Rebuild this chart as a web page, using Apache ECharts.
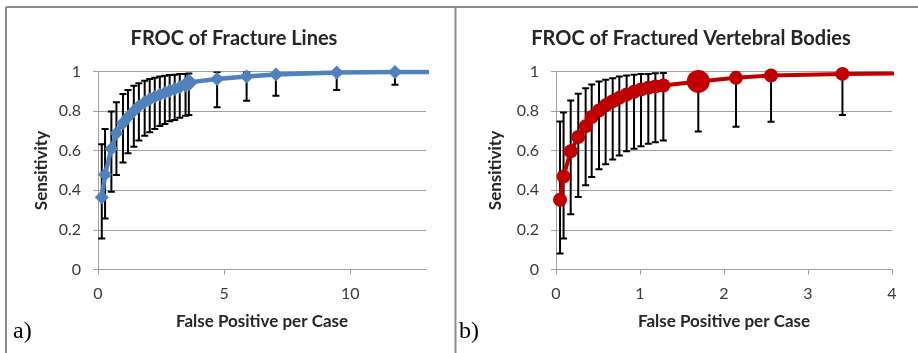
<!DOCTYPE html>
<html>
<head>
<meta charset="utf-8">
<script src="https://cdn.jsdelivr.net/npm/echarts@6/dist/echarts.min.js"></script>
<style>
html,body{margin:0;padding:0;background:#fff;}
#chart{width:918px;height:353px;}
</style>
</head>
<body>
<div id="chart"></div>
<script>
// ---------- DATA ----------
const titleA = 'FROC of Fracture Lines';
const titleB = 'FROC of Fractured Vertebral Bodies';
const xName = 'False Positive per Case';
const yName = 'Sensitivity';
const panelA = 'a)';
const panelB = 'b)';

const xTicksA = [0, 5, 10];
const xTicksB = [0, 1, 2, 3, 4];
const yTicks = [0, 0.2, 0.4, 0.6, 0.8, 1];

// Panel a) fracture lines
const fpA   = [0.15, 0.28, 0.53, 0.73, 0.99, 1.19, 1.42, 1.62, 1.85, 2.05, 2.25, 2.45, 2.65, 2.84, 3.04, 3.24, 3.47, 3.6, 4.72, 5.89, 7.05, 9.46, 11.77, 14.5];
const sensA = [0.365, 0.48, 0.61, 0.688, 0.74, 0.77, 0.80, 0.825, 0.845, 0.86, 0.872, 0.882, 0.893, 0.903, 0.912, 0.92, 0.93, 0.945, 0.962, 0.975, 0.985, 0.995, 0.997, 0.998];
const hiA   = [0.633, 0.71, 0.798, 0.845, 0.886, 0.907, 0.928, 0.941, 0.953, 0.962, 0.968, 0.975, 0.978, 0.982, 0.983, 0.987, 0.988, 0.99, 0.997, 0.997, 1.0, 1.0, 1.0, null];
const loA   = [0.157, 0.258, 0.393, 0.477, 0.54, 0.587, 0.62, 0.651, 0.675, 0.693, 0.71, 0.725, 0.735, 0.749, 0.755, 0.767, 0.777, 0.78, 0.82, 0.852, 0.877, 0.906, 0.933, null];

// Panel b) fractured vertebral bodies
const fpB   = [0.048, 0.09, 0.175, 0.265, 0.353, 0.425, 0.512, 0.591, 0.675, 0.754, 0.841, 0.929, 1.012, 1.099, 1.183, 1.278, 1.694, 2.143, 2.56, 3.41, 4.5];
const sensB = [0.352, 0.47, 0.597, 0.669, 0.723, 0.77, 0.803, 0.829, 0.85, 0.867, 0.884, 0.898, 0.909, 0.918, 0.924, 0.929, 0.95, 0.968, 0.98, 0.988, 0.992];
const hiB   = [0.748, 0.793, 0.854, 0.888, 0.916, 0.934, 0.95, 0.958, 0.966, 0.975, 0.98, 0.983, 0.988, 0.988, 0.991, 0.993, 1.0, 1.0, 1.0, 1.0, null];
const loB   = [0.081, 0.156, 0.279, 0.366, 0.425, 0.467, 0.506, 0.531, 0.555, 0.576, 0.597, 0.61, 0.623, 0.635, 0.643, 0.652, 0.697, 0.721, 0.746, 0.78, null];

// ---------- STYLE ----------
const BIG_A = 17, BIG_B = 16;
const gridCol = '#a0a0a0';
const txtCol = '#262626';
const labCol = '#3a3a3a';
const font = 'Lato';

function pairs(xs, ys) { return xs.map((x, i) => [x, ys[i]]); }

function errorSeries(xs, lo, hi, idx) {
  const data = [];
  xs.forEach((x, i) => { if (lo[i] != null && hi[i] != null) data.push([x, lo[i], hi[i]]); });
  return {
    type: 'custom', xAxisIndex: idx, yAxisIndex: idx, z: 1, clip: true,
    data: data,
    encode: { x: 0, y: [1, 2] },
    renderItem: function (params, api) {
      const x = api.value(0);
      const top = api.coord([x, api.value(2)]);
      const bot = api.coord([x, api.value(1)]);
      const cw = 3.5;
      const st = { stroke: '#000', lineWidth: 2 };
      return {
        type: 'group',
        children: [
          { type: 'line', shape: { x1: top[0], y1: top[1], x2: bot[0], y2: bot[1] }, style: st },
          { type: 'line', shape: { x1: top[0] - cw, y1: top[1], x2: top[0] + cw, y2: top[1] }, style: st },
          { type: 'line', shape: { x1: bot[0] - cw, y1: bot[1], x2: bot[0] + cw, y2: bot[1] }, style: st }
        ]
      };
    }
  };
}

function xAxisCfg(idx, max, interval, ticks) {
  return {
    type: 'value', gridIndex: idx, min: 0, max: max, interval: interval,
    name: xName, nameLocation: 'middle', nameGap: 44,
    nameTextStyle: { fontFamily: font, fontWeight: 'bold', fontSize: 17, color: txtCol },
    axisLine: { show: true, lineStyle: { color: gridCol, width: 1 } },
    axisTick: { show: true, length: 5, lineStyle: { color: gridCol }, customValues: ticks },
    axisLabel: { fontFamily: font, fontSize: 16, color: labCol, margin: 16, customValues: ticks },
    splitLine: { show: false }
  };
}
function yAxisCfg(idx, gap) {
  return {
    type: 'value', gridIndex: idx, min: 0, max: 1, interval: 0.2,
    name: yName, nameLocation: 'middle', nameGap: gap,
    nameTextStyle: { fontFamily: font, fontWeight: 'bold', fontSize: 17, color: txtCol },
    axisLine: { show: true, lineStyle: { color: gridCol, width: 1 } },
    axisTick: { show: true, length: 5, lineStyle: { color: gridCol }, customValues: yTicks },
    axisLabel: { fontFamily: font, fontSize: 16, color: labCol, margin: 17, customValues: yTicks },
    splitLine: { show: true, lineStyle: { color: gridCol, width: 1 } }
  };
}

const chart = echarts.init(document.getElementById('chart'), null, { renderer: 'canvas' });
chart.setOption({
  animation: false,
  backgroundColor: '#fff',
  title: [
    { text: titleA, left: 229, top: 24, textAlign: 'center',
      textStyle: { fontFamily: font, fontWeight: 'bold', fontSize: 20, color: txtCol } },
    { text: titleB, left: 686, top: 24, textAlign: 'center',
      textStyle: { fontFamily: font, fontWeight: 'bold', fontSize: 20, color: txtCol } }
  ],
  grid: [
    { left: 98, top: 71.5, width: 328, height: 198 },
    { left: 556, top: 71.5, width: 336, height: 198 }
  ],
  xAxis: [ xAxisCfg(0, 13, 5, xTicksA), xAxisCfg(1, 4, 1, xTicksB) ],
  yAxis: [ yAxisCfg(0, 48), yAxisCfg(1, 52) ],
  series: [
    errorSeries(fpA, loA, hiA, 0),
    errorSeries(fpB, loB, hiB, 1),
    {
      type: 'line', xAxisIndex: 0, yAxisIndex: 0, z: 3, clip: true,
      data: pairs(fpA, sensA),
      symbol: 'diamond',
      symbolSize: function (v, p) { return p.dataIndex === BIG_A ? 18 : 14; },
      lineStyle: { color: '#4F81BD', width: 4.5 },
      itemStyle: { color: '#4F81BD' }
    },
    {
      type: 'line', xAxisIndex: 1, yAxisIndex: 1, z: 3, clip: true,
      data: pairs(fpB, sensB),
      symbol: 'circle',
      symbolSize: function (v, p) { return p.dataIndex === BIG_B ? 23 : 14; },
      lineStyle: { color: '#C00000', width: 4 },
      itemStyle: { color: '#C00000' }
    }
  ],
  graphic: [
    { type: 'line', shape: { x1: 6, y1: 7, x2: 918, y2: 7 }, style: { stroke: '#8c8c8c', lineWidth: 2 } },
    { type: 'line', shape: { x1: 6, y1: 7, x2: 6, y2: 353 }, style: { stroke: '#8c8c8c', lineWidth: 2 } },
    { type: 'line', shape: { x1: 455.5, y1: 7, x2: 455.5, y2: 353 }, style: { stroke: '#8c8c8c', lineWidth: 2 } },
    { type: 'text', left: 13, top: 320, style: { text: panelA, font: '24px "Liberation Serif", "Times New Roman", serif', fill: '#000' } },
    { type: 'text', left: 459, top: 320, style: { text: panelB, font: '24px "Liberation Serif", "Times New Roman", serif', fill: '#000' } }
  ]
});
</script>
</body>
</html>
